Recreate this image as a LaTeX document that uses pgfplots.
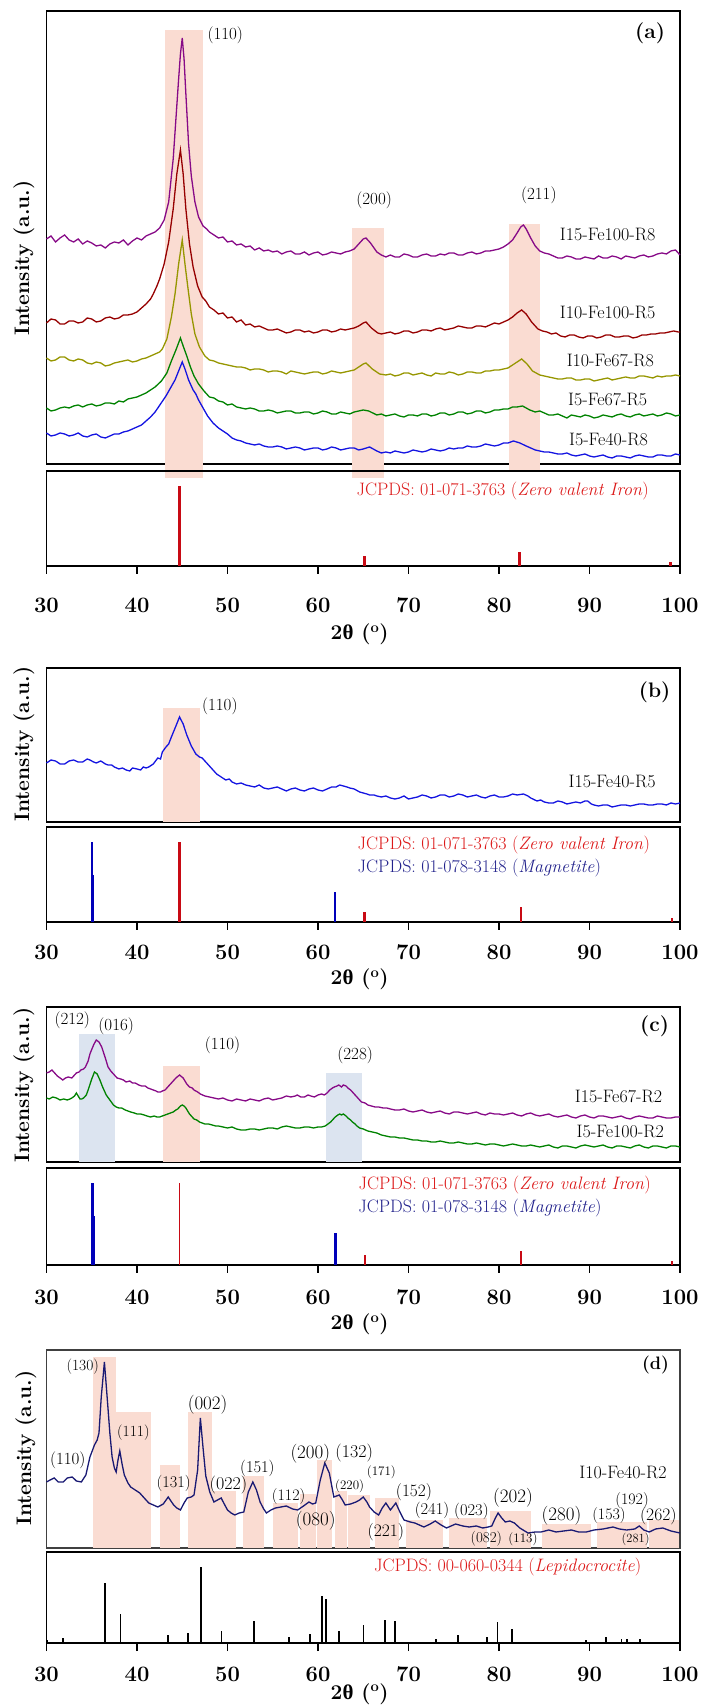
\documentclass[border=0pt]{standalone}
\usepackage{fontspec}
\usepackage{pgfplots}
\pgfplotsset{compat=1.18}
\newfontfamily\grk{Liberation Serif}
\newcommand\fs[1]{\fontsize{#1}{#1}\selectfont}
\definecolor{cpurple}{RGB}{135,10,135}
\definecolor{cdred}{RGB}{150,0,0}
\definecolor{colive}{RGB}{150,150,0}
\definecolor{cgreen}{RGB}{0,130,0}
\definecolor{cblue}{RGB}{20,20,225}
\definecolor{cnavy}{RGB}{25,25,115}
\definecolor{sred}{RGB}{200,10,20}
\definecolor{tred}{RGB}{220,25,25}
\definecolor{sblue}{RGB}{0,0,185}
\definecolor{tnavy}{RGB}{35,35,140}
\definecolor{pinkbox}{RGB}{250,220,210}
\definecolor{bluebox}{RGB}{220,228,240}
\newcommand\pbox[4][pinkbox]{\addplot[draw=none, fill=#1] coordinates {(#2,0)(#3,0)(#3,#4)(#2,#4)};}
\pgfplotsset{
 upper/.style={scale only axis, width=633.5pt, xmin=30, xmax=100, ymin=0, xtick=\empty, ytick=\empty, clip=false, axis line style={line width=1.6pt}, anchor=south west},
 lower/.style={scale only axis, width=633.5pt, xmin=30, xmax=100, ymin=0, xtick={30,40,50,60,70,80,90,100}, ytick=\empty, clip=false, xtick pos=left, tick align=outside, major tick length=8pt, tick style={line width=1.6pt, black}, axis line style={line width=1.6pt}, anchor=south west, /pgf/number format/assume math mode=true, xticklabel style={font=\fs{22}\bfseries, anchor=base}},
 curve/.style={line width=1.3pt},
}
\tikzset{
 lab/.style={font=\fs{17}},
 dlab/.style={font=\fs{#1}},
 dlab/.default=17,
 plab/.style={font=\fs{21}\bfseries},
 xl/.style={font=\fs{21}\bfseries, anchor=base},
}
\begin{document}
\begin{tikzpicture}
% ================= (a) upper =================
\begin{axis}[upper, at={(46.5pt,1243pt)}, height=453pt, ymax=453]
\addplot[draw=none, fill=pinkbox] coordinates {(43.06,-14)(47.3,-14)(47.3,434)(43.06,434)};
\addplot[draw=none, fill=pinkbox] coordinates {(63.75,-14)(67.24,-14)(67.24,236)(63.75,236)};
\addplot[draw=none, fill=pinkbox] coordinates {(81.05,-8)(84.54,-8)(84.54,240)(81.05,240)};
\addplot[curve, cpurple] coordinates {(30,225)(30.5,228)(31,222)(31.5,226)(32,229)(32.5,224)(33,222)(33.5,225)(34,220)(34.5,223)(35,221)(35.5,218)(36,219)(36.5,216)(37,220)(37.5,222)(38,221)(38.5,224)(39,219)(39.5,223)(40,226)(40.5,224)(41,228)(41.5,230)(42,232)(42.5,236)(43,244)(43.5,262)(44,305)(44.3,345)(44.6,385)(44.8,410)(45,426)(45.2,405)(45.4,370)(45.7,320)(46,288)(46.4,262)(46.8,247)(47.3,238)(47.7,235)(48,232)(48.5,229)(49,226)(49.5,227)(50,222)(50.5,223)(51,219)(51.5,220)(52,217)(52.5,218)(53,214)(53.5,216)(54,213)(54.5,214)(55,212)(55.5,213)(56,210)(56.5,212)(57,213)(57.5,210)(58,210)(58.5,212)(59,209)(59.5,211)(60,212)(60.5,209)(61,210)(61.5,212)(62,211)(62.5,210)(63,212)(63.5,213)(64,215)(64.5,220)(65,225)(65.3,226)(65.8,221)(66.5,212)(67,209)(67.5,207)(68,209)(68.5,207)(69,207)(69.5,210)(70,209)(70.5,207)(71,207)(71.5,209)(72,210)(72.5,208)(73,208)(73.5,210)(74,209)(74.5,211)(75,211)(75.5,209)(76,209)(76.5,211)(77,212)(77.5,210)(78,211)(78.5,213)(79,213)(79.5,214)(80,215)(80.5,217)(81,220)(81.5,224)(82,231)(82.4,237)(82.7,239)(83,235)(83.5,226)(84,218)(84.5,213)(85,211)(85.5,210)(86,208)(86.5,206)(87,206)(87.5,208)(88,207)(88.5,205)(89,205)(89.5,207)(90,206)(90.5,205)(91,208)(91.5,206)(92,206)(92.5,208)(93,207)(93.5,205)(94,208)(94.5,207)(95,206)(95.5,208)(96,209)(96.5,207)(97,208)(97.5,210)(98,211)(98.5,210)(99,213)(99.5,214)(100,209)};
\addplot[curve, cdred] coordinates {(30,141)(30.5,145)(31,144)(31.5,140)(32,140)(32.5,143)(33,143)(33.5,141)(34,142)(34.5,146)(35,145)(35.5,142)(36,143)(36.5,146)(37,147)(37.5,145)(38,146)(38.5,149)(39,149)(39.5,150)(40,152)(40.5,156)(41,160)(41.5,165)(41.8,170)(42.2,178)(42.5,185)(43,200)(43.5,222)(44,255)(44.4,290)(44.8,314)(45.1,290)(45.4,255)(45.8,220)(46.2,197)(46.7,178)(47.2,167)(47.6,163)(48,157)(48.5,154)(49,150)(49.5,151)(50,146)(50.5,147)(51,142)(51.5,144)(52,139)(52.5,140)(53,137)(53.5,138)(54,136)(54.5,134)(55,134)(55.5,135)(56,133)(56.5,131)(57,132)(57.5,134)(58,134)(58.5,132)(59,133)(59.5,131)(60,132)(60.5,134)(61,134)(61.5,132)(62,133)(62.5,135)(63,134)(63.5,135)(64,136)(64.5,138)(65,141)(65.3,142)(65.9,136)(66.6,131)(67,130)(67.5,131)(68,132)(68.5,130)(69,131)(69.5,133)(70,133)(70.5,131)(71,132)(71.5,134)(72,134)(72.5,133)(73,135)(73.5,136)(74,134)(74.5,135)(75,136)(75.5,138)(76,137)(76.5,136)(77,136)(77.5,138)(78,138)(78.5,137)(79,139)(79.5,141)(80,140)(80.5,142)(81,144)(81.5,147)(82,151)(82.5,154)(83,150)(83.6,142)(84.3,135)(84.8,133)(85.3,132)(85.8,130)(86.3,131)(86.8,128)(87.3,127)(87.8,129)(88.3,129)(88.8,127)(89.3,126)(89.8,128)(90.3,128)(90.8,126)(91.3,127)(91.8,129)(92.3,129)(92.8,127)(93.3,127)(93.8,128)(94.3,128)(94.8,126)(95.3,127)(95.8,129)(96.3,129)(96.8,130)(97.3,130)(97.8,131)(98.3,131)(98.8,132)(99.3,133)(99.8,132)(100,132)};
\addplot[curve, colive] coordinates {(30,106)(30.5,103)(31,104)(31.5,107)(32,107)(32.5,104)(33,103)(33.5,105)(34,104)(34.5,101)(35,100)(35.5,102)(36,101)(36.5,98)(37,99)(37.5,101)(38,102)(38.5,103)(39,104)(39.5,102)(40,103)(40.5,105)(41,106)(41.5,108)(42,110)(42.5,112)(42.8,115)(43.3,125)(43.8,147)(44.2,170)(44.6,200)(45,224)(45.3,200)(45.6,178)(46,150)(46.4,130)(46.9,117)(47.5,108)(48,104)(48.5,103)(49,101)(49.5,100)(50,99)(50.5,98)(51,97)(51.5,97)(52,96)(52.5,94)(53,95)(53.5,95)(54,94)(54.5,92)(55,93)(55.5,93)(56,92)(56.5,90)(57,93)(57.5,92)(58,91)(58.5,90)(59,91)(59.5,92)(60,92)(60.5,90)(61,91)(61.5,93)(62,92)(62.5,91)(63,92)(63.5,93)(64,94)(64.5,97)(65,100)(65.3,101)(66,95)(66.8,90)(67.5,89)(68,90)(68.5,88)(69,89)(69.5,91)(70,91)(70.5,89)(71,90)(71.5,91)(72,89)(72.5,88)(73,91)(73.5,90)(74,90)(74.5,92)(75,91)(75.5,89)(76,90)(76.5,92)(77,92)(77.5,91)(78,91)(78.5,93)(79,93)(79.5,94)(80,94)(80.5,95)(81,96)(81.5,99)(82,102)(82.5,105)(83.1,100)(83.7,93)(84.5,89)(85,88)(85.5,87)(86,86)(86.5,85)(87,85)(87.5,86)(88,86)(88.5,84)(89,84)(89.5,85)(90,85)(90.5,83)(91,84)(91.5,85)(92,86)(92.5,84)(93,85)(93.5,86)(94,87)(94.5,86)(95,86)(95.5,88)(96,88)(96.5,87)(97,86)(97.5,88)(98,87)(98.5,88)(99,88)(99.5,89)(100,88)};
\addplot[curve, cgreen] coordinates {(30,56)(30.5,53)(31,54)(31.5,56)(32,57)(32.5,56)(33,58)(33.5,59)(34,57)(34.5,59)(35,60)(35.5,58)(36,59)(36.5,61)(37,61)(37.5,60)(38,63)(38.5,62)(39,65)(39.5,66)(40,67)(40.5,69)(41,71)(41.5,74)(42,77)(42.7,83)(43.3,91)(43.8,103)(44.3,114)(44.8,126)(45.1,118)(45.5,108)(45.9,97)(46.3,88)(46.8,80)(47.4,73)(48,67)(48.5,66)(49,63)(49.5,62)(50,59)(50.5,60)(51,57)(51.5,56)(52,55)(52.5,56)(53,55)(53.5,53)(54,53)(54.5,54)(55,53)(55.5,51)(56,52)(56.5,53)(57,53)(57.5,51)(58,51)(58.5,52)(59,52)(59.5,50)(60,51)(60.5,53)(61,52)(61.5,50)(62,50)(62.5,52)(63,51)(63.5,50)(64,52)(64.5,53)(65,54)(65.6,53)(66.5,49)(67,50)(67.5,48)(68,49)(68.5,50)(69,48)(69.5,47)(70,49)(70.5,49)(71,48)(71.5,50)(72,50)(72.5,48)(73,49)(73.5,51)(74,51)(74.5,49)(75,50)(75.5,52)(76,52)(76.5,50)(77,51)(77.5,53)(78,53)(78.5,51)(79,52)(79.5,54)(80,54)(80.5,55)(81,55)(81.5,57)(82,57)(82.6,58)(83.4,54)(84,52)(84.5,53)(85,51)(85.5,49)(86,49)(86.5,50)(87,48)(87.5,46)(88,49)(88.5,48)(89,47)(89.5,49)(90,48)(90.5,46)(91,47)(91.5,49)(92,48)(92.5,47)(93,49)(93.5,50)(94,48)(94.5,47)(95,49)(95.5,50)(96,48)(96.5,49)(97,50)(97.5,48)(98,49)(98.5,51)(99,50)(99.5,48)(100,49)};
\addplot[curve, cblue] coordinates {(30,31)(30.5,28)(31,29)(31.5,31)(32,30)(32.5,28)(33,29)(33.5,31)(34,28)(34.5,27)(35,29)(35.5,30)(36,27)(36.5,26)(37,28)(37.5,30)(38,30)(38.5,32)(39,33)(39.5,35)(40,37)(40.5,39)(41,43)(41.5,47)(42,52)(42.6,60)(43.2,68)(43.7,76)(44.2,84)(44.6,93)(45,102)(45.3,95)(45.7,84)(46.2,74)(46.5,70)(46.8,64)(47.3,56)(47.8,48)(48.4,41)(49,36)(49.5,33)(50,30)(50.5,26)(51,24)(51.5,23)(52,21)(52.5,20)(53,19)(53.5,20)(54,18)(54.5,17)(55,17)(55.5,18)(56,17)(56.5,15)(57,16)(57.5,17)(58,16)(58.5,14)(59,15)(59.5,16)(60,16)(60.5,14)(61,15)(61.5,17)(62,16)(62.5,14)(63,15)(63.5,16)(64,16)(64.5,14)(65,15)(65.7,17)(66.5,13)(67,11)(67.5,12)(68,11)(68.5,13)(69,12)(69.5,11)(70,12)(70.5,14)(71,13)(71.5,12)(72,13)(72.5,15)(73,14)(73.5,13)(74,14)(74.5,16)(75,15)(75.5,16)(76,16)(76.5,18)(77,17)(77.5,17)(78,18)(78.5,20)(79,19)(79.5,18)(80,19)(80.5,21)(81,21)(81.6,23)(82.3,21)(83,18)(83.5,16)(84,14)(84.5,13)(85,12)(85.5,12)(86,11)(86.5,10)(87,10)(87.5,11)(88,9)(88.5,8)(89,9)(89.5,10)(90,8)(90.5,7)(91,8)(91.5,9)(92,7)(92.5,6)(93,8)(93.5,8)(94,7)(94.5,6)(95,8)(95.5,9)(96,8)(96.5,7)(97,7)(97.5,9)(98,9)(98.5,8)(99,8)(99.5,10)(100,9)};
\node[lab] at (axis cs:49.75,429) {(110)};
\node[lab] at (axis cs:66.2,264) {(200)};
\node[lab] at (axis cs:84.4,269) {(211)};
\node[plab] at (axis cs:96.7,431) {(a)};
\node[font=\fs{18}] at (axis cs:92,229) {I15-Fe100-R8};
\node[font=\fs{18}] at (axis cs:92,151) {I10-Fe100-R5};
\node[font=\fs{18}] at (axis cs:92.3,103) {I10-Fe67-R8};
\node[font=\fs{18}] at (axis cs:92,64) {I5-Fe67-R5};
\node[font=\fs{18}] at (axis cs:92.1,24) {I5-Fe40-R8};
\end{axis}
% ================= (a) lower =================
\begin{axis}[lower, at={(46.5pt,1141pt)}, height=95pt, ymax=95, xticklabel style={yshift=-39pt}]
\addplot[ycomb, line width=3pt, sred] coordinates {(44.7,80)(65.1,10)(82.3,14)(98.95,4)};
\node[font=\fs{18}, tred, anchor=west] at (axis cs:63.87,75) {JCPDS: 01-071-3763 (\textit{Zero valent Iron})};
\node[xl, yshift=-74pt] at (axis cs:64.6,0) {2{\grk\bfseries θ} (\textsuperscript{o})};
\end{axis}
% ================= (b) upper =================
\begin{axis}[upper, at={(46.5pt,885pt)}, height=154pt, ymax=154]
\addplot[draw=none, fill=pinkbox] coordinates {(42.9,0)(46.95,0)(46.95,114)(42.9,114)};
\addplot[curve, cblue] coordinates {(30,59)(30.5,62)(31,61)(31.5,58)(32,58)(32.5,61)(33,62)(33.5,60)(34,60)(34.5,63)(34.8,62)(35.2,60)(35.5,59)(36,61)(36.5,58)(36.8,57)(37.2,57)(37.5,55)(38,53)(38.4,54)(38.8,52)(39.2,51)(39.5,54)(40,53)(40.4,52)(40.7,55)(41,54)(41.3,55)(41.8,58)(42.3,64)(42.6,63)(42.8,70)(43.2,75)(43.5,78)(43.8,85)(44.3,96)(44.7,105)(45.1,98)(45.5,87)(46,76)(46.5,68)(46.9,65)(47.2,64)(47.4,62)(47.8,58)(48.3,53)(48.8,48)(49.3,45)(49.8,42)(50.2,43)(50.5,40)(51,38)(51.5,39)(52,37)(52.5,36)(53,35)(53.5,37)(54,34)(54.5,33)(55,34)(55.5,35)(56,33)(56.5,31)(57,33)(57.5,34)(58,32)(58.5,31)(59,33)(59.5,34)(60,32)(60.5,31)(61,33)(61.5,35)(62,35)(62.4,37)(62.8,36)(63.2,35)(63.5,34)(64,33)(64.2,32)(64.6,30)(65,29)(65.4,28)(65.7,27)(66.2,27)(66.5,26)(67,25)(67.5,26)(68,24)(68.5,23)(69,24)(69.5,26)(70,23)(70.5,24)(71,25)(71.5,27)(72,26)(72.5,24)(73,25)(73.5,27)(74,27)(74.5,25)(75,26)(75.5,28)(76,27)(76.5,25)(77,26)(77.5,27)(78,25)(78.5,24)(79,26)(79.5,27)(80,25)(80.5,25)(81,26)(81.5,28)(82,27)(82.7,28)(83.2,26)(83.5,24)(84.2,21)(84.6,22)(85,20)(85.5,19)(86,19)(86.5,21)(87,20)(87.5,18)(88,19)(88.5,20)(89,19)(89.5,21)(89.8,21)(90.2,18)(90.5,17)(91,16)(91.5,17)(92,17)(92.5,15)(93,16)(93.5,17)(94,17)(94.5,16)(95,17)(95.5,18)(96,18)(96.5,17)(97,17)(97.5,18)(98,18)(98.5,17)(99,19)(99.5,18)(100,19)};
\node[lab] at (axis cs:49.15,116) {(110)};
\node[plab] at (axis cs:97.2,130) {(b)};
\node[font=\fs{18}] at (axis cs:92.5,40) {I15-Fe40-R5};
\end{axis}
% ================= (b) lower =================
\begin{axis}[lower, at={(46.5pt,785pt)}, height=95pt, ymax=95, xticklabel style={yshift=-30pt}]
\addplot[ycomb, line width=1.5pt, sblue] coordinates {(35.03,80)(35.15,47)(61.9,30)};
\addplot[ycomb, line width=2.6pt, sred] coordinates {(44.7,80)(65.15,10)(82.45,14.5)(99.1,4.3)};
\node[font=\fs{18}, tred, anchor=west] at (axis cs:64.0,77) {JCPDS: 01-071-3763 (\textit{Zero valent Iron})};
\node[font=\fs{18}, tnavy, anchor=west] at (axis cs:64.0,53.7) {JCPDS: 01-078-3148 (\textit{Magnetite})};
\node[xl, yshift=-63pt] at (axis cs:64.6,0) {2{\grk\bfseries θ} (\textsuperscript{o})};
\end{axis}
% ================= (c) upper =================
\begin{axis}[upper, at={(46.5pt,545pt)}, height=155pt, ymax=155]
\addplot[draw=none, fill=bluebox] coordinates {(33.6,0)(37.6,0)(37.6,128)(33.6,128)};
\addplot[draw=none, fill=pinkbox] coordinates {(42.9,0)(46.95,0)(46.95,96)(42.9,96)};
\addplot[draw=none, fill=bluebox] coordinates {(60.85,0)(64.9,0)(64.9,88.7)(60.85,88.7)};
\addplot[curve, cpurple] coordinates {(30,89)(30.3,90)(30.6,92)(31,88)(31.2,86)(31.5,84)(31.8,82)(32.1,84)(32.4,85)(32.8,84)(33.1,87)(33.3,89)(33.6,90)(33.8,92)(34.1,93)(34.3,95)(34.6,101)(34.8,108)(35.2,117)(35.5,122)(35.8,120)(36.1,115)(36.5,104)(36.8,95)(37.1,91)(37.3,89)(37.6,86)(37.8,84)(38.2,83)(38.5,82)(38.8,80)(39.2,81)(39.5,79)(39.8,79)(40.2,77)(40.5,76)(40.9,76)(41.2,74)(41.5,73)(41.8,72)(42.1,71)(42.3,70)(42.6,70)(42.8,71)(43.1,72)(43.3,74)(43.6,77)(43.8,79)(44.1,82)(44.3,84)(44.7,87)(45.1,84)(45.5,78)(45.8,75)(46.1,74)(46.3,72)(46.7,70)(47,68)(47.5,66)(48,65)(48.5,64)(49,63)(49.5,64)(50,62)(50.5,61)(51,63)(51.5,62)(52,61)(52.5,63)(53,62)(53.5,61)(54,63)(54.5,64)(55,62)(55.5,63)(56,64)(56.5,66)(57,65)(57.5,66)(57.7,67)(58.1,65)(58.5,65)(58.9,67)(59.2,66)(59.6,65)(60,67)(60.4,68)(60.7,67)(61,69)(61.3,72)(61.6,74)(61.8,75)(62.1,76)(62.3,77)(62.6,75)(62.8,77)(63.1,76)(63.3,74)(63.6,72)(63.8,70)(64.1,67)(64.3,65)(64.6,62)(64.8,60)(65.2,59)(65.5,57)(65.9,56)(66.3,55)(66.7,55)(67.2,54)(67.6,54)(68,53)(68.5,52)(69,52)(69.5,53)(70,51)(70.5,50)(71,51)(71.5,52)(72,50)(72.5,49)(73,50)(73.5,51)(74,49)(74.5,48)(75,50)(75.5,50)(76,49)(76.5,48)(77,49)(77.5,50)(78,48)(78.5,47)(79,49)(79.5,48)(80,48)(80.5,47)(81,48)(81.5,49)(82,47)(82.5,46)(83,48)(83.5,49)(84,47)(84.5,46)(85,47)(85.5,48)(86,46)(86.5,45)(87,46)(87.5,47)(88,45)(88.5,44)(89,46)(89.5,47)(90,45)(90.5,44)(91,46)(91.5,46)(92,45)(92.5,44)(93,45)(93.5,46)(94,44)(94.5,43)(95,45)(95.5,46)(96,45)(96.5,44)(97,44)(97.5,46)(98,45)(98.5,44)(99,44)(99.5,45)(100,45)};
\addplot[curve, cgreen] coordinates {(30,64)(30.3,63)(30.7,65)(31.1,64)(31.5,62)(31.9,63)(32.3,62)(32.6,63)(32.8,64)(33.1,66)(33.3,69)(33.5,66)(33.7,63)(33.9,63)(34.1,64)(34.4,67)(34.6,72)(35,83)(35.3,90)(35.6,88)(35.9,82)(36.2,75)(36.6,67)(37,62)(37.4,57)(37.7,55)(38,54)(38.3,54)(38.7,52)(39,51)(39.3,50)(39.7,49)(40,48)(40.4,48)(40.8,47)(41.1,46)(41.5,45)(41.9,46)(42.2,45)(42.5,45)(42.8,46)(43.1,47)(43.4,48)(43.7,49)(44,50)(44.3,52)(44.5,53)(44.8,56)(45,57)(45.2,56)(45.4,54)(45.6,51)(45.8,48)(46,46)(46.3,43)(46.6,42)(46.9,40)(47.2,39)(47.5,38)(47.9,38)(48.3,37)(48.7,36)(49,36)(49.5,35)(50,34)(50.5,35)(51,33)(51.5,32)(52,32)(52.5,33)(53,33)(53.5,32)(54,33)(54.5,34)(55,34)(55.5,33)(56,35)(56.5,36)(57,35)(57.5,34)(58,34)(58.5,35)(59,35)(59.5,34)(60,35)(60.4,35)(60.8,36)(61.1,38)(61.4,40)(61.7,43)(61.9,45)(62.2,47)(62.4,48)(62.6,47)(62.8,48)(63.1,46)(63.3,44)(63.6,42)(63.8,40)(64.1,38)(64.3,36)(64.6,34)(65,33)(65.5,31)(66,30)(66.5,29)(67,27)(67.5,26)(68,25)(68.5,25)(69,24)(69.5,24)(70,23)(70.5,22)(71,22)(71.5,21)(72,21)(72.5,20)(73,20)(73.5,21)(74,20)(74.5,19)(75,19)(75.5,20)(76,19)(76.5,18)(77,18)(77.5,19)(78,18)(78.5,17)(79,18)(79.5,18)(80,17)(80.5,16)(81,17)(81.5,18)(82,17)(82.5,16)(83,16)(83.5,17)(84,16)(84.5,15)(85,16)(85.5,17)(86,15)(86.5,14)(87,16)(87.5,16)(88,15)(88.5,14)(89,16)(89.5,17)(90,16)(90.5,15)(91,16)(91.5,17)(92,15)(92.5,14)(93,16)(93.5,16)(94,15)(94.5,14)(95,16)(95.5,17)(96,15)(96.5,14)(97,16)(97.5,16)(98,15)(98.5,14)(99,16)(99.5,16)(100,15)};
\node[lab] at (axis cs:32.85,142) {(212)};
\node[lab] at (axis cs:37.7,135.3) {(016)};
\node[lab] at (axis cs:49.45,117) {(110)};
\node[lab] at (axis cs:64.1,106.3) {(228)};
\node[plab] at (axis cs:97.2,135.3) {(c)};
\node[font=\fs{18}] at (axis cs:93.2,65.3) {I15-Fe67-R2};
\node[font=\fs{18}] at (axis cs:93.4,30.3) {I5-Fe100-R2};
\end{axis}
% ================= (c) lower =================
\begin{axis}[lower, at={(46.5pt,442pt)}, height=97pt, ymax=97, xticklabel style={yshift=-32pt}]
\addplot[ycomb, line width=2.8pt, sblue] coordinates {(35.1,81.7)(35.25,49)(61.9,31.7)};
\addplot[ycomb, line width=1.8pt, sred] coordinates {(44.7,81.7)(65.2,9.7)(82.45,14.3)(99.1,4)};
\node[font=\fs{18}, tred, anchor=west] at (axis cs:64.09,80) {JCPDS: 01-071-3763 (\textit{Zero valent Iron})};
\node[font=\fs{18}, tnavy, anchor=west] at (axis cs:64.06,57.3) {JCPDS: 01-078-3148 (\textit{Magnetite})};
\node[xl, yshift=-65pt] at (axis cs:64.6,0) {2{\grk\bfseries θ} (\textsuperscript{o})};
\end{axis}
% ================= (d) upper =================
\begin{axis}[upper, at={(46.5pt,159pt)}, height=198pt, ymax=198, axis line style={line width=1.2pt, black!75}]
\pbox{35.1}{37.7}{190.7}
\pbox{37.7}{41.55}{136.3}
\pbox{42.5}{44.75}{83}
\pbox{45.6}{48.25}{136.3}
\pbox{48.25}{50.9}{57}
\pbox{51.7}{54.05}{71.5}
\pbox{55.05}{57.75}{45}
\pbox{58.05}{59.75}{54}
\pbox{59.9}{61.6}{88}
\pbox{61.85}{63.25}{57.3}
\pbox{63.35}{65.8}{53}
\pbox{66.35}{68.95}{49.7}
\pbox{69.7}{73.85}{28}
\pbox{74.5}{78.7}{29.7}
\pbox{78.95}{83.5}{37.3}
\pbox{84.8}{90.15}{24}
\pbox{90.8}{96.4}{26.3}
\pbox{96.6}{99.85}{28}
\addplot[line width=1.3pt, cnavy] coordinates {(30,66)(30.4,68)(30.85,70)(31.3,66)(31.85,66)(32.3,70)(32.85,71)(33.3,67)(33.85,66)(34.35,73)(34.8,91)(35.3,103)(35.6,108)(35.8,115)(36.05,151)(36.4,186)(36.75,145)(37,115)(37.25,91)(37.5,80)(37.7,76)(37.9,88)(38.1,97)(38.35,84)(38.6,73)(39,65)(39.3,61)(39.8,58)(40.3,55)(40.8,50)(41.3,45)(41.8,43)(42.3,41)(42.9,44)(43.45,51)(44.05,43)(44.4,40)(44.8,38)(45.2,45)(45.55,50)(46,51)(46.3,53)(46.7,78)(47,130)(47.3,100)(47.6,72)(48.04,56)(48.5,46)(49.3,50)(49.7,43)(50,38)(50.4,35)(50.8,33)(51.3,35)(51.8,36)(52.3,56)(52.8,66)(53.2,58)(53.6,46)(54,39)(54.3,35)(54.8,38)(55.3,40)(55.9,41)(56.5,42)(57.2,39)(57.75,38)(58.4,42)(59,46)(59.4,44)(59.75,45)(60.25,68)(60.75,85)(61.25,75)(61.75,51)(62.35,53)(62.7,48)(63,43)(63.6,44)(64.2,46)(64.6,48)(65,51)(65.4,46)(65.7,41)(66.2,36)(66.7,33)(67.1,40)(67.5,45)(68,38)(68.6,45)(69,37)(69.5,28)(70.2,26)(70.7,25)(71.2,23)(71.7,21)(72.4,24)(72.95,27)(73.6,23)(74.2,20)(74.7,22)(75.2,24)(76,22)(76.7,21)(77.5,22)(78.2,20)(78.8,21)(79.2,22)(79.6,30)(79.9,35)(80.3,30)(80.7,26)(81.2,27)(81.7,25)(82.3,20)(83.2,15)(84,16)(84.65,16)(85.5,18)(86.3,16)(87.15,17)(88,18)(88.8,16)(89.65,16)(90.5,18)(91.5,19)(92.6,21)(93.3,19)(94.1,18)(95,19)(95.5,22)(96,18)(96.6,16)(97.3,19)(98.1,20)(99,17)(100,15)};
\node[dlab=17] at (axis cs:32.35,88) {(110)};
\node[dlab=15.5] at (axis cs:34.0,181.3) {(130)};
\node[dlab=15.5] at (axis cs:39.6,115) {(111)};
\node[dlab=16.3] at (axis cs:44.05,64.7) {(131)};
\node[dlab=19] at (axis cs:47.8,143.5) {(002)};
\node[dlab=18] at (axis cs:50.1,63) {(022)};
\node[dlab=16.5] at (axis cs:53.3,79.7) {(151)};
\node[dlab=16] at (axis cs:56.75,51.3) {(112)};
\node[dlab=19] at (axis cs:59.75,27.3) {(080)};
\node[dlab=19] at (axis cs:59.15,94.7) {(200)};
\node[dlab=18] at (axis cs:64.0,94.7) {(132)};
\node[dlab=13] at (axis cs:63.5,62) {(220)};
\node[dlab=13] at (axis cs:67.0,75.3) {(171)};
\node[dlab=17.5] at (axis cs:67.5,16.3) {(221)};
\node[dlab=17.3] at (axis cs:70.6,55.7) {(152)};
\node[dlab=16.5] at (axis cs:72.6,37.3) {(241)};
\node[dlab=16.5] at (axis cs:76.95,36.3) {(023)};
\node[dlab=15] at (axis cs:78.6,9) {(082)};
\node[dlab=13] at (axis cs:82.65,9) {(113)};
\node[dlab=19] at (axis cs:81.55,50.3) {(202)};
\node[dlab=19] at (axis cs:86.9,32) {(280)};
\node[dlab=16] at (axis cs:92.15,32) {(153)};
\node[dlab=16] at (axis cs:94.7,47) {(192)};
\node[dlab=17.5] at (axis cs:97.6,32) {(262)};
\node[dlab=12.5] at (axis cs:95.1,9) {(281)};
\node[font=\fs{18}\bfseries] at (axis cs:97.3,183) {(d)};
\node[font=\fs{18}] at (axis cs:93.7,75.7) {I10-Fe40-R2};
\end{axis}
% ================= (d) lower =================
\begin{axis}[lower, at={(46.5pt,64pt)}, height=91pt, ymax=91, xticklabel style={yshift=-30pt}]
\addplot[ycomb, line width=1.8pt, black] coordinates {(30.1,3)(31.85,4.7)(36.48,59.7)(38.17,29)(43.45,8)(45.65,9.7)(47.04,76.3)(49.33,12.3)(52.93,22.3)(56.76,6.3)(59.1,8.7)(60.44,47)(60.84,44)(62.29,12.3)(65.03,18)(67.42,23)(68.5,22.3)(73.0,4)(75.44,8)(78.68,6.3)(79.83,21)(81.47,14)(89.64,3)(91.78,5.7)(93.53,3.7)(94.1,3.7)(95.6,4)};
\node[font=\fs{18}, tred, anchor=west] at (axis cs:65.8,76.3) {JCPDS: 00-060-0344 (\textit{Lepidocrocite})};
\node[xl, yshift=-56pt] at (axis cs:64.6,0) {2{\grk\bfseries θ} (\textsuperscript{o})};
\end{axis}
% y labels
\node[rotate=90, font=\fs{21}\bfseries] at (24pt,1449pt) {Intensity (a.u.)};
\node[rotate=90, font=\fs{21}\bfseries] at (24pt,963pt) {Intensity (a.u.)};
\node[rotate=90, font=\fs{21}\bfseries] at (24pt,622pt) {Intensity (a.u.)};
\node[rotate=90, font=\fs{21}\bfseries] at (26pt,259pt) {Intensity (a.u.)};
\pgfresetboundingbox
\path[use as bounding box] (0,0) rectangle (704pt,1707pt);
\end{tikzpicture}
\end{document}
